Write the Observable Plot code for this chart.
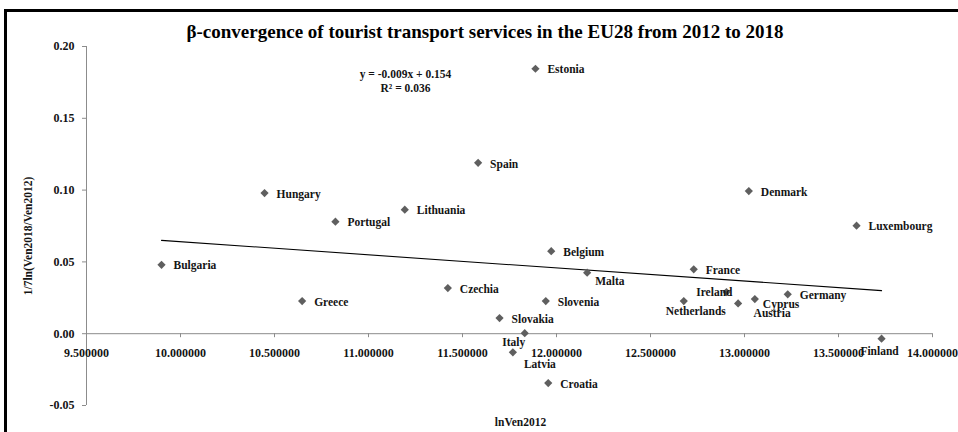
<!DOCTYPE html>
<html><head><meta charset="utf-8">
<script src="https://cdn.jsdelivr.net/npm/d3@7"></script>
<script src="https://cdn.jsdelivr.net/npm/@observablehq/plot@0.6"></script>
<style>
html,body{margin:0;padding:0;background:#fff;}
#wrap{position:relative;width:958px;height:432px;overflow:hidden;}
#border{position:absolute;left:4px;top:9px;right:0;bottom:0;border-top:3px solid #000;border-left:3px solid #000;pointer-events:none;}
</style></head><body>
<div id="wrap"><div id="chart"></div><div id="border"></div></div>
<script>
// ---- data ----
const countries = ["Bulgaria","Greece","Hungary","Portugal","Lithuania","Czechia","Spain","Slovakia","Latvia","Italy","Estonia","Slovenia","Croatia","Belgium","Malta","Netherlands","France","Ireland","Austria","Denmark","Cyprus","Germany","Luxembourg","Finland"];
const lnVen2012 = [9.899,10.647,10.447,10.824,11.193,11.422,11.583,11.697,11.768,11.831,11.888,11.943,11.956,11.972,12.163,12.677,12.730,12.904,12.966,13.023,13.055,13.230,13.596,13.729];
const growth = [0.048,0.0227,0.0979,0.078,0.0864,0.0318,0.119,0.0109,-0.013,0.0004,0.1845,0.0227,-0.0344,0.0575,0.0425,0.0227,0.0448,0.029,0.0211,0.0993,0.0241,0.0274,0.0752,-0.0035];
const xTicks = [9.5,10.0,10.5,11.0,11.5,12.0,12.5,13.0,13.5,14.0];
const yTicks = [-0.05,0.00,0.05,0.10,0.15,0.20];
const trendX = [9.899,13.729];
const trendY = [0.065,0.030];
const titleText = "β-convergence of tourist transport services in the EU28 from 2012 to 2018";
const equationLines = ["y = -0.009x + 0.154","R² = 0.036"];
const xLabel = "lnVen2012";
const yLabel = "1/7ln(Ven2018/Ven2012)";

// ---- label placement (style, not data) ----
const labelPlacement = {
  Italy:       {textAnchor:"middle", dx:-11, dy:9},
  Latvia:      {textAnchor:"middle", dx:27, dy:11.5},
  Netherlands: {textAnchor:"middle", dx:12, dy:10.5},
  Ireland:     {textAnchor:"end", dx:6, dy:0},
  Cyprus:      {textAnchor:"start", dx:8, dy:5},
  Austria:     {textAnchor:"start", dx:15.5, dy:10},
  Malta:       {textAnchor:"start", dx:8, dy:9},
  Finland:     {textAnchor:"middle", dx:-2, dy:13}
};

const points = countries.map((c,i)=>({country:c, x:lnVen2012[i], y:growth[i]}));
const trend = trendX.map((x,i)=>({x, y:trendY[i]}));

const serif = "'Liberation Serif','Times New Roman',serif";
const axisColor = "#8c8c8c";
const labelFont = 11.5;
const textFill = "#141414";

const labelMarks = [
  Plot.text(points.filter(d=>!(d.country in labelPlacement)), {x:"x", y:"y", text:"country", textAnchor:"start", dx:12, dy:1, fontWeight:"bold", fontSize:labelFont, fill:textFill})
];
for (const [c,p] of Object.entries(labelPlacement)) {
  labelMarks.push(Plot.text(points.filter(d=>d.country===c), {x:"x", y:"y", text:"country", textAnchor:p.textAnchor, dx:p.dx, dy:p.dy, fontWeight:"bold", fontSize:labelFont, fill:textFill}));
}

const chart = Plot.plot({
  width:958, height:432,
  marginLeft:86, marginRight:26, marginTop:46, marginBottom:27,
  style:{fontFamily:serif, background:"#fff"},
  x:{domain:[9.5,14], axis:null},
  y:{domain:[-0.05,0.2], axis:null},
  marks:[
    // y axis
    Plot.ruleX([xTicks[0]], {y1:yTicks[0], y2:yTicks[yTicks.length-1], stroke:axisColor}),
    Plot.ruleY(yTicks, {x1:xTicks[0], x2:xTicks[0], insetLeft:-4, stroke:axisColor}),
    Plot.text(yTicks, {y:d=>d, frameAnchor:"left", dx:-12, textAnchor:"end", lineAnchor:"middle", text:d=>d.toFixed(2), fontWeight:"bold", fontSize:12, fill:textFill}),
    // x axis at y = 0
    Plot.ruleY([0], {x1:xTicks[0], x2:xTicks[xTicks.length-1], stroke:axisColor}),
    Plot.ruleX(xTicks, {y1:d=>0, y2:d=>0, insetBottom:-4, stroke:axisColor}),
    Plot.text(xTicks, {x:d=>d, y:d=>0, dy:19.4, text:d=>d.toFixed(6), fontWeight:"bold", fontSize:12, fill:textFill}),
    // trend line
    Plot.line(trend, {x:"x", y:"y", stroke:"#000", strokeWidth:1.1}),
    // points
    Plot.dot(points, {x:"x", y:"y", symbol:"diamond2", r:3.7, fill:"#5f5f5f", stroke:"none"}),
    ...labelMarks,
    // equation
    Plot.text([equationLines.join("\n")], {frameAnchor:"top-left", dx:319, dy:34.3, textAnchor:"middle", lineAnchor:"middle", lineHeight:14/11.5, fontWeight:"bold", fontSize:11.5, fill:textFill}),
    // title
    Plot.text([titleText], {frameAnchor:"top", dx:-24.5, dy:-15, textAnchor:"middle", lineAnchor:"middle", fontWeight:"bold", fontSize:19, fill:"#000"}),
    // axis titles
    Plot.text([xLabel], {frameAnchor:"bottom", dx:11, dy:17, textAnchor:"middle", lineAnchor:"middle", fontWeight:"bold", fontSize:11.5, fill:textFill}),
    Plot.text([yLabel], {frameAnchor:"left", dx:-58, dy:10, rotate:-90, textAnchor:"middle", lineAnchor:"middle", fontWeight:"bold", fontSize:11.5, fill:textFill})
  ]
});
document.getElementById("chart").appendChild(chart);
</script>
</body></html>
